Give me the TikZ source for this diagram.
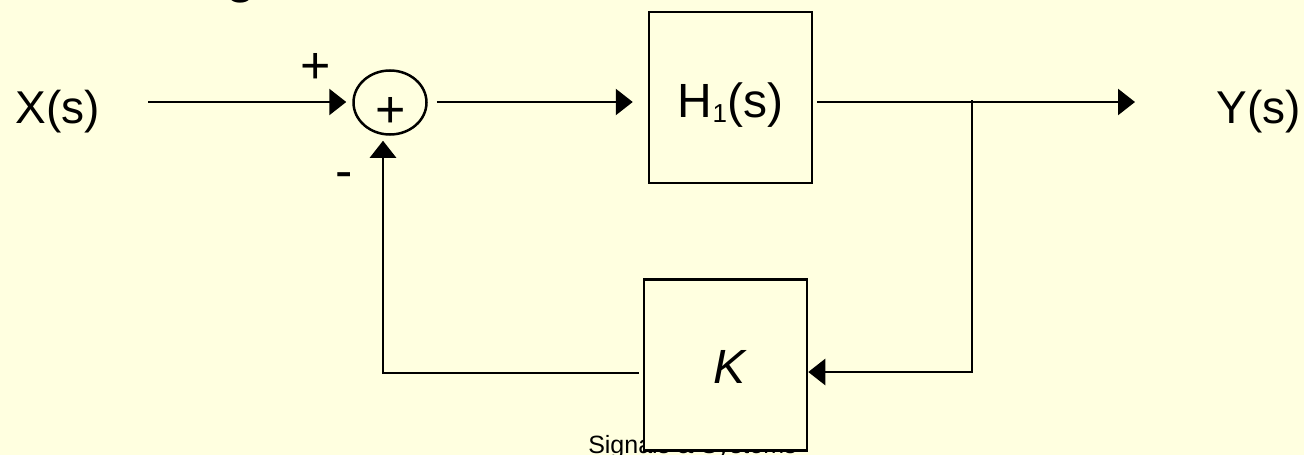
\documentclass[tikz,border=0pt]{standalone}
\usepackage{fontspec}
\setmainfont{Liberation Sans}
\usetikzlibrary{arrows.meta,shapes.geometric}
\definecolor{bg}{HTML}{FFFFE0}
\begin{document}
\begin{tikzpicture}[x=1pt,y=-1pt,line width=2.5pt,
  arr/.style={-{Triangle[length=17pt,width=26pt]}},
  blk/.style={draw,fill=bg,minimum width=163pt,minimum height=171pt,inner sep=0pt},
  sumnode/.style={draw,ellipse,minimum width=73pt,minimum height=64pt,inner sep=0pt},
  lbl/.style={font=\fontsize{46}{50}\selectfont,inner sep=0pt,anchor=base},
  sgn/.style={font=\fontsize{52}{56}\selectfont,inner sep=0pt,anchor=base},
  big/.style={font=\fontsize{48}{52}\selectfont,inner sep=0pt,anchor=base}]
\useasboundingbox (0,0) rectangle (1304,455);
\fill[bg] (0,0) rectangle (1304,455);
% title fragment
\begin{scope}
\clip (0,0) rectangle (1304,455);
\node[font=\fontsize{56}{60}\selectfont,inner sep=0pt,anchor=base] (title) at (241,-9) {g};
\end{scope}
% footer (hidden behind K)
\node[font=\fontsize{25}{28}\selectfont,inner sep=0pt,anchor=base west] (footer) at (587,453) {Signals \& Systems};
% nodes
\node[lbl] (X) at (57.5,123) {X(s)};
\node[lbl] (Y) at (1259,123) {Y(s)};
\node[sumnode] (sum) at (390,102.5) {};
\node[sgn] (sumplus) at (391,127.4) {+};
\node[sgn] (plus) at (315.5,83.4) {+};
\node[sgn] (minus) at (344,188.6) {-};
\node[blk] (H1) at (730.5,97.5) {};
\node[big] (H1t) at (730.5,117) {H\raisebox{-5pt}{\fontsize{26}{28}\selectfont 1}(s)};
\node[blk] (K) at (725.5,365) {};
\node[big] (Kt) at (729,383) {\itshape K};
% coordinates
\coordinate (xin) at (148,102);
\coordinate (yout) at (1135,102);
\coordinate (jn) at (972,100);
\coordinate (jnb) at (972,372);
\coordinate (fb) at (383,373);
% connectors
\draw[arr,shorten >=6pt] (xin) -- (sum.west |- xin);
\draw[arr,shorten <=9pt,shorten >=15pt] (sum.east |- xin) -- (H1.west |- xin);
\draw[arr,shorten <=4pt] (H1.east |- yout) -- (yout);
\draw[arr] (jn) -- (jnb) -- (jnb -| K.east);
\draw[arr,shorten <=4pt,shorten >=5pt] (K.west |- fb) -- (fb) -- (fb |- sum.south);
\end{tikzpicture}
\end{document}
